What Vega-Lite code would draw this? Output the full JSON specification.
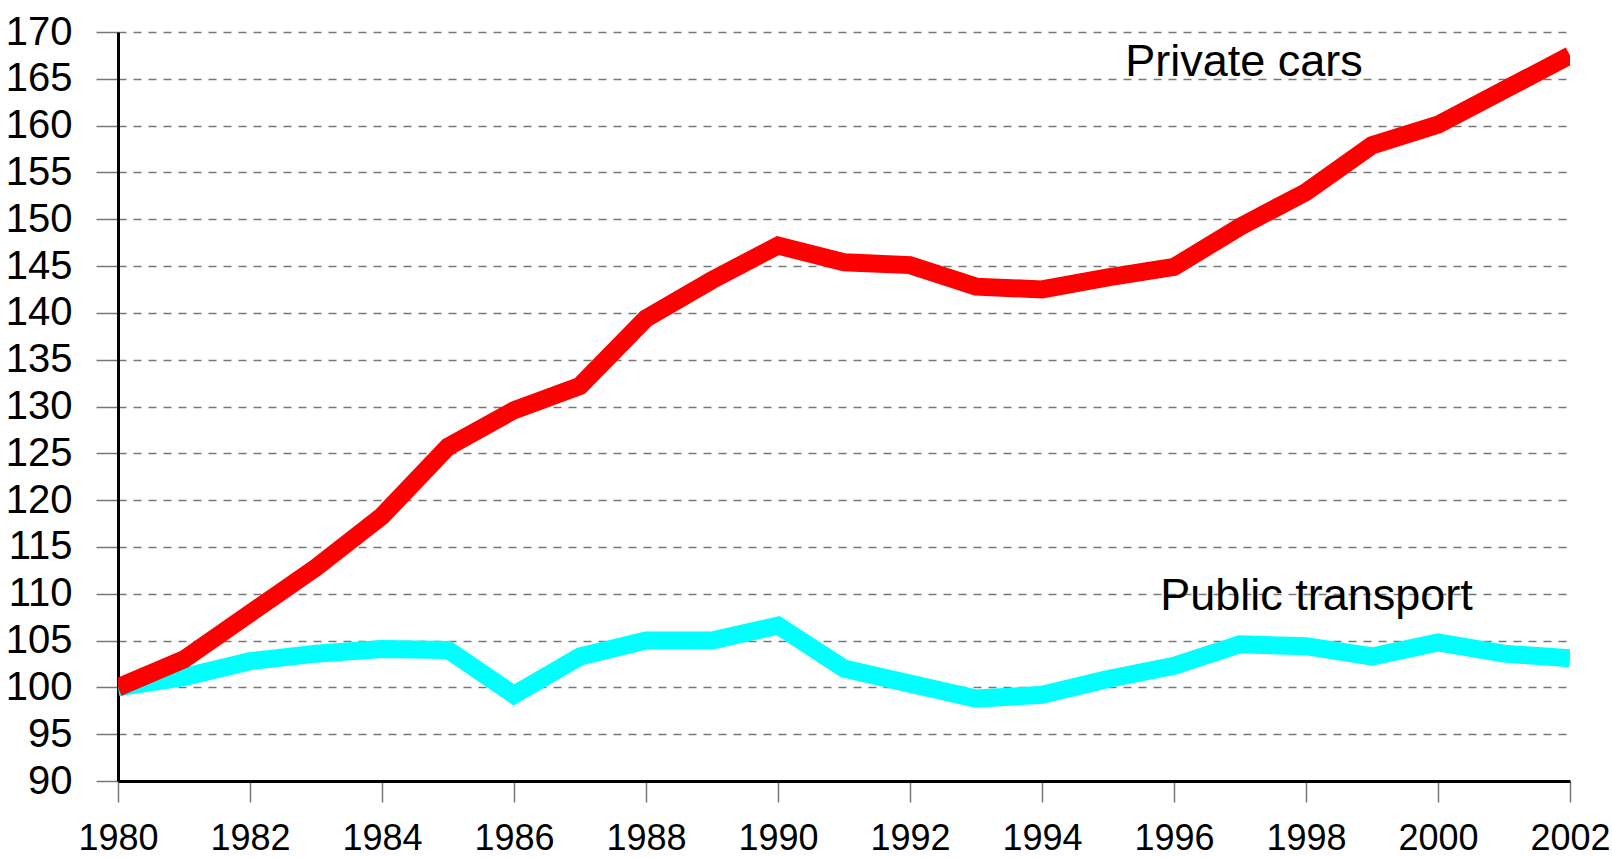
{
  "$schema": "https://vega.github.io/schema/vega-lite/v6.json",
  "width": 1452,
  "height": 749,
  "autosize": {"type": "none"},
  "padding": {"left": 118, "top": 32, "right": 42, "bottom": 77},
  "background": "white",
  "config": {"view": {"stroke": null}, "font": "Liberation Sans"},
  "datasets": {
    "series": [
      {"series": "Private cars", "year": 1980, "index": 100.0},
      {"series": "Private cars", "year": 1981, "index": 103.0},
      {"series": "Private cars", "year": 1982, "index": 107.9},
      {"series": "Private cars", "year": 1983, "index": 112.8},
      {"series": "Private cars", "year": 1984, "index": 118.3},
      {"series": "Private cars", "year": 1985, "index": 125.7},
      {"series": "Private cars", "year": 1986, "index": 129.6},
      {"series": "Private cars", "year": 1987, "index": 132.2},
      {"series": "Private cars", "year": 1988, "index": 139.4},
      {"series": "Private cars", "year": 1989, "index": 143.5},
      {"series": "Private cars", "year": 1990, "index": 147.2},
      {"series": "Private cars", "year": 1991, "index": 145.4},
      {"series": "Private cars", "year": 1992, "index": 145.1},
      {"series": "Private cars", "year": 1993, "index": 142.8},
      {"series": "Private cars", "year": 1994, "index": 142.5},
      {"series": "Private cars", "year": 1995, "index": 143.8},
      {"series": "Private cars", "year": 1996, "index": 144.9},
      {"series": "Private cars", "year": 1997, "index": 149.2},
      {"series": "Private cars", "year": 1998, "index": 152.9},
      {"series": "Private cars", "year": 1999, "index": 157.9},
      {"series": "Private cars", "year": 2000, "index": 160.1},
      {"series": "Private cars", "year": 2001, "index": 163.8},
      {"series": "Private cars", "year": 2002, "index": 167.5},
      {"series": "Public transport", "year": 1980, "index": 100.0},
      {"series": "Public transport", "year": 1981, "index": 101.1},
      {"series": "Public transport", "year": 1982, "index": 102.8},
      {"series": "Public transport", "year": 1983, "index": 103.6},
      {"series": "Public transport", "year": 1984, "index": 104.1},
      {"series": "Public transport", "year": 1985, "index": 104.0},
      {"series": "Public transport", "year": 1986, "index": 99.2},
      {"series": "Public transport", "year": 1987, "index": 103.3},
      {"series": "Public transport", "year": 1988, "index": 105.0},
      {"series": "Public transport", "year": 1989, "index": 105.0},
      {"series": "Public transport", "year": 1990, "index": 106.6},
      {"series": "Public transport", "year": 1991, "index": 102.0},
      {"series": "Public transport", "year": 1992, "index": 100.4},
      {"series": "Public transport", "year": 1993, "index": 98.8},
      {"series": "Public transport", "year": 1994, "index": 99.2},
      {"series": "Public transport", "year": 1995, "index": 100.9},
      {"series": "Public transport", "year": 1996, "index": 102.3},
      {"series": "Public transport", "year": 1997, "index": 104.6},
      {"series": "Public transport", "year": 1998, "index": 104.4},
      {"series": "Public transport", "year": 1999, "index": 103.3},
      {"series": "Public transport", "year": 2000, "index": 104.8},
      {"series": "Public transport", "year": 2001, "index": 103.6},
      {"series": "Public transport", "year": 2002, "index": 103.1}
    ],
    "labels": [
      {"label": "Private cars", "year": 1995.26, "index": 165.3},
      {"label": "Public transport", "year": 1995.79, "index": 108.27}
    ]
  },
  "encoding": {
    "x": {
      "field": "year",
      "type": "quantitative",
      "scale": {"domain": [1980, 2002], "nice": false, "zero": false},
      "axis": {
        "values": [1980, 1982, 1984, 1986, 1988, 1990, 1992, 1994, 1996, 1998, 2000, 2002],
        "format": "d",
        "title": null,
        "grid": false,
        "domainColor": "black",
        "domainWidth": 3,
        "tickColor": "#777777",
        "tickWidth": 1.5,
        "tickSize": 21,
        "labelFont": "Liberation Sans",
        "labelFontSize": 36,
        "labelColor": "black",
        "labelPadding": 19,
        "labelFlush": false,
        "labelOverlap": false
      }
    },
    "y": {
      "field": "index",
      "type": "quantitative",
      "scale": {"domain": [90, 170], "nice": false, "zero": false},
      "axis": {
        "values": [90, 95, 100, 105, 110, 115, 120, 125, 130, 135, 140, 145, 150, 155, 160, 165, 170],
        "title": null,
        "grid": true,
        "gridDash": [8, 7],
        "gridColor": "#777777",
        "gridWidth": 1.5,
        "domainColor": "black",
        "domainWidth": 3,
        "tickColor": "#777777",
        "tickWidth": 1.5,
        "tickSize": 22,
        "labelFont": "Liberation Sans",
        "labelFontSize": 40,
        "labelColor": "black",
        "labelPadding": 24,
        "labelFlush": false,
        "labelOverlap": false
      }
    }
  },
  "layer": [
    {
      "data": {"name": "series"},
      "transform": [{"filter": "datum.series === 'Public transport'"}],
      "mark": {"type": "line", "color": "#00FFFF", "strokeWidth": 18, "strokeJoin": "miter", "strokeCap": "butt", "clip": true}
    },
    {
      "data": {"name": "series"},
      "transform": [{"filter": "datum.series === 'Private cars'"}],
      "mark": {"type": "line", "color": "#FF0000", "strokeWidth": 18, "strokeJoin": "miter", "strokeCap": "butt", "clip": true}
    },
    {
      "data": {"name": "labels"},
      "mark": {"type": "text", "align": "left", "baseline": "alphabetic", "font": "Liberation Sans", "fontSize": 45, "color": "black"},
      "encoding": {"text": {"field": "label", "type": "nominal"}}
    }
  ]
}
